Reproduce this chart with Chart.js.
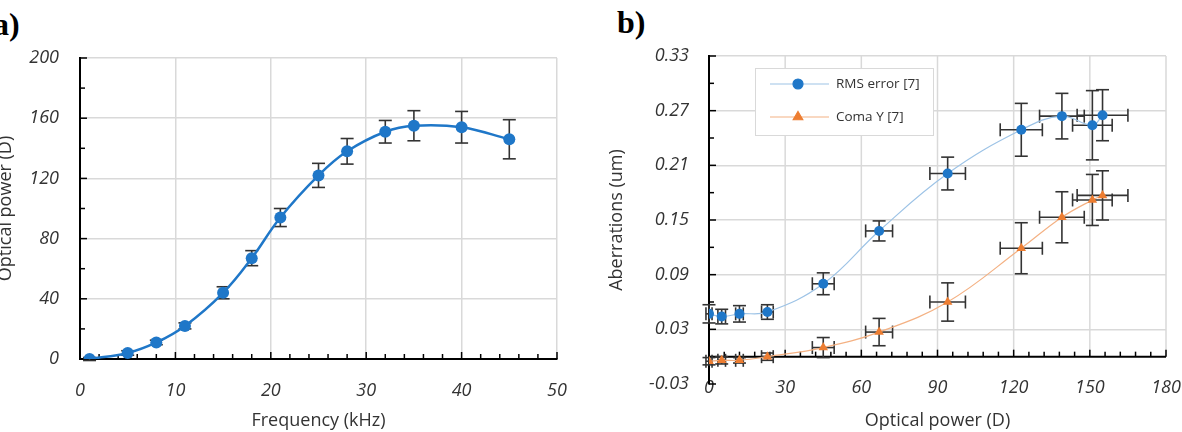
<!DOCTYPE html>
<html>
<head>
<meta charset="utf-8">
<script src="https://cdn.jsdelivr.net/npm/chart.js@4.4.0/dist/chart.umd.min.js"></script>
<style>
  body { margin: 0; background: #fff; width: 1182px; height: 432px; overflow: hidden; position: relative; }
  .panel { position: absolute; top: 0; height: 432px; }
  .tag { position: absolute; font-family: "Liberation Serif", "Times New Roman", serif; font-weight: bold; font-size: 32px; line-height: 32px; color: #000; }
</style>
</head>
<body>
<div class="tag" style="left:-7px; top:8px;">a)</div>
<div class="tag" style="left:617px; top:6px;">b)</div>
<div class="panel" style="left:0; width:590px;"><canvas id="chartA" width="590" height="432"></canvas></div>
<div class="panel" style="left:590px; width:592px;"><canvas id="chartB" width="592" height="432"></canvas></div>
<script>
// ---- panel a: optical power vs drive frequency
const freqKHz = [1, 5, 8, 11, 15, 18, 21, 25, 28, 32, 35, 40, 45];
const opticalPower = [0, 4, 11, 22, 44, 67, 94, 122, 138, 151, 155, 154, 146];
const opticalPowerErr = [1, 1.5, 1.5, 2, 4, 5, 6, 8, 8.5, 7.5, 10, 10.5, 13];
const freqTicks = [0, 10, 20, 30, 40, 50];
const powerTicks = [0, 40, 80, 120, 160, 200];

// ---- panel b: aberrations vs optical power
const lensPower = [0, 5, 12, 23, 45, 67, 94, 123, 139, 151, 155];
const lensPowerErr = [1.2, 1.5, 1.5, 2.3, 4.3, 5.3, 7, 8.3, 8.8, 7.8, 10];
const rmsError = [0.047, 0.044, 0.047, 0.049, 0.080, 0.138, 0.201, 0.249, 0.264, 0.254, 0.265];
const rmsErrorErr = [0.010, 0.008, 0.009, 0.008, 0.012, 0.011, 0.018, 0.029, 0.025, 0.038, 0.028];
const comaY = [-0.005, -0.004, -0.004, 0.000, 0.010, 0.027, 0.060, 0.119, 0.153, 0.172, 0.177];
const comaYErr = [0.004, 0.004, 0.003, 0.004, 0.011, 0.015, 0.021, 0.028, 0.028, 0.028, 0.027];
const lensPowerTicks = [0, 30, 60, 90, 120, 150, 180];
const aberrationTicks = [-0.03, 0.03, 0.09, 0.15, 0.21, 0.27, 0.33];

const BLUE = '#1f77c8';
const BLUE_LIGHT = '#9dc3e6';
const ORANGE = '#ed7d31';
const ORANGE_LIGHT = '#f4b183';
const GRID = '#d9d9d9';
const TEXT = '#333333';
const ERR = '#333333';

const tickFont = { family: '"Open Sans", sans-serif', size: 18, style: 'italic' };
const titleFont = { family: '"Open Sans", sans-serif', size: 18 };

function line(ctx, x1, y1, x2, y2) {
    ctx.beginPath();
    ctx.moveTo(x1, y1);
    ctx.lineTo(x2, y2);
    ctx.stroke();
}

// inner tick marks, axis at a value, shortened vertical grid, error bars
const decor = {
    id: 'decor',
    beforeDatasetsDraw(chart, args, opts) {
        const { ctx, chartArea: a, scales: { x, y } } = chart;
        ctx.save();
        const axisY = opts.xAxisAt !== undefined ? y.getPixelForValue(opts.xAxisAt) : a.bottom;

        if (opts.xAxisAt !== undefined) {
            ctx.strokeStyle = GRID;
            ctx.lineWidth = 1.5;
            x.ticks.forEach(t => {
                if (t.value === x.min) return;
                const px = x.getPixelForValue(t.value);
                line(ctx, px, a.top, px, axisY);
            });
            ctx.strokeStyle = '#000';
            ctx.lineWidth = 2;
            line(ctx, a.left, axisY, a.right, axisY);
        }

        // tick marks pointing into the plot
        ctx.strokeStyle = '#000';
        ctx.lineWidth = 1.5;
        for (let v = x.min; v <= x.max + 1e-9; v += opts.xMinor) {
            const px = x.getPixelForValue(v);
            const major = x.ticks.some(t => Math.abs(t.value - v) < 1e-6);
            line(ctx, px, axisY, px, axisY - (major ? 7 : 5));
        }
        for (let v = y.min; v <= y.max + 1e-9; v += opts.yMinor) {
            const py = y.getPixelForValue(v);
            const major = y.ticks.some(t => Math.abs(t.value - v) < 1e-6);
            line(ctx, a.left, py, a.left + (major ? 7 : 5), py);
        }

        // error bars
        ctx.strokeStyle = ERR;
        ctx.lineWidth = 1.6;
        const cap = 6.5;
        chart.data.datasets.forEach(ds => {
            ds.data.forEach((p, i) => {
                const px = x.getPixelForValue(p.x);
                const py = y.getPixelForValue(p.y);
                if (ds.errY) {
                    const t = y.getPixelForValue(p.y + ds.errY[i]);
                    const b = y.getPixelForValue(p.y - ds.errY[i]);
                    line(ctx, px, t, px, b);
                    line(ctx, px - cap, t, px + cap, t);
                    line(ctx, px - cap, b, px + cap, b);
                }
                if (ds.errX) {
                    const l = x.getPixelForValue(p.x - ds.errX[i]);
                    const r = x.getPixelForValue(p.x + ds.errX[i]);
                    line(ctx, l, py, r, py);
                    line(ctx, l, py - cap, l, py + cap);
                    line(ctx, r, py - cap, r, py + cap);
                }
            });
        });
        ctx.restore();
    },
    afterDraw(chart, args, opts) {
        if (!opts.legend) return;
        const { ctx } = chart;
        const L = opts.legend;
        ctx.save();
        ctx.fillStyle = '#fff';
        ctx.fillRect(L.x, L.y, L.w, L.h);
        ctx.strokeStyle = GRID;
        ctx.lineWidth = 1;
        ctx.strokeRect(L.x + 0.5, L.y + 0.5, L.w, L.h);
        ctx.font = '13.5px "Open Sans", sans-serif';
        ctx.textBaseline = 'middle';
        chart.data.datasets.forEach((ds, i) => {
            const ry = L.y + 16 + i * 33;
            ctx.strokeStyle = ds.borderColor;
            ctx.lineWidth = 1.2;
            line(ctx, L.x + 15, ry, L.x + 74, ry);
            ctx.fillStyle = ds.pointBackgroundColor;
            ctx.strokeStyle = ds.pointBackgroundColor;
            Chart.helpers.drawPoint(ctx, { pointStyle: ds.pointStyle, radius: ds.pointRadius, borderWidth: 1 }, L.x + 43, ry);
            ctx.fillStyle = TEXT;
            ctx.fillText(ds.label, L.x + 81, ry);
        });
        ctx.restore();
    }
};

function fixedTicks(values) {
    return scale => { scale.ticks = values.map(v => ({ value: v })); };
}

new Chart(document.getElementById('chartA'), {
    type: 'scatter',
    data: {
        datasets: [{
            label: 'Optical power',
            data: freqKHz.map((f, i) => ({ x: f, y: opticalPower[i] })),
            errY: opticalPowerErr,
            showLine: true,
            borderColor: BLUE,
            backgroundColor: BLUE,
            pointBackgroundColor: BLUE,
            borderWidth: 2.5,
            pointRadius: 6,
            pointBorderWidth: 0,
            tension: 0.4
        }]
    },
    options: {
        responsive: false,
        animation: false,
        layout: { padding: { left: 0, top: 58, right: 33, bottom: 0 } },
        plugins: {
            legend: { display: false },
            tooltip: { enabled: false },
            decor: { xMinor: 2, yMinor: 20 }
        },
        scales: {
            x: {
                type: 'linear', min: 0, max: 50,
                afterBuildTicks: fixedTicks(freqTicks),
                afterFit: s => { s.height = 73; },
                grid: { color: GRID, lineWidth: 1.5, drawTicks: false },
                border: { color: '#000', width: 2 },
                ticks: { padding: 21, font: tickFont, color: TEXT },
                title: { display: true, text: 'Frequency (kHz)', font: titleFont, color: TEXT, padding: { top: 0, bottom: 0 } }
            },
            y: {
                min: 0, max: 200,
                afterBuildTicks: fixedTicks(powerTicks),
                afterFit: s => { s.width = 80; },
                grid: { color: GRID, lineWidth: 1.5, drawTicks: false },
                border: { color: '#000', width: 2 },
                ticks: { padding: 21, font: tickFont, color: TEXT },
                title: { display: true, text: 'Optical power (D)', font: titleFont, color: TEXT, padding: { top: -5, bottom: 0 } }
            }
        }
    },
    plugins: [decor]
});

new Chart(document.getElementById('chartB'), {
    type: 'scatter',
    data: {
        datasets: [{
            label: 'RMS error [7]',
            data: lensPower.map((p, i) => ({ x: p, y: rmsError[i] })),
            errX: lensPowerErr,
            errY: rmsErrorErr,
            showLine: true,
            borderColor: BLUE_LIGHT,
            pointBackgroundColor: BLUE,
            pointBorderColor: BLUE,
            borderWidth: 1.2,
            pointRadius: 5,
            pointBorderWidth: 0,
            pointStyle: 'circle',
            tension: 0.4
        }, {
            label: 'Coma Y [7]',
            data: lensPower.map((p, i) => ({ x: p, y: comaY[i] })),
            errX: lensPowerErr,
            errY: comaYErr,
            showLine: true,
            borderColor: ORANGE_LIGHT,
            pointBackgroundColor: ORANGE,
            pointBorderColor: ORANGE,
            borderWidth: 1.2,
            pointRadius: 5.5,
            pointBorderWidth: 0,
            pointStyle: 'triangle',
            tension: 0.4
        }]
    },
    options: {
        responsive: false,
        animation: false,
        layout: { padding: { left: 0, top: 56, right: 16, bottom: 0 } },
        plugins: {
            legend: { display: false },
            tooltip: { enabled: false },
            decor: { xMinor: 6, yMinor: 0.03, xAxisAt: 0, legend: { x: 165, y: 68, w: 178, h: 67 } }
        },
        scales: {
            x: {
                type: 'linear', min: 0, max: 180,
                afterBuildTicks: fixedTicks(lensPowerTicks),
                afterFit: s => { s.height = 48; },
                grid: { display: false, drawTicks: false },
                border: { display: false },
                // mirrored so the labels may sit level with the -0.03 row, as in the original
                ticks: { mirror: true, padding: -15, font: tickFont, color: TEXT },
                title: { display: true, text: 'Optical power (D)', font: titleFont, color: TEXT, padding: { top: 0, bottom: 0 } }
            },
            y: {
                min: -0.03, max: 0.33,
                afterBuildTicks: fixedTicks(aberrationTicks),
                afterFit: s => { s.width = 119; },
                grid: {
                    color: ctx => (ctx.tick && ctx.tick.value < 0 ? 'rgba(0,0,0,0)' : GRID),
                    lineWidth: 1.5, drawTicks: false
                },
                border: { color: '#000', width: 2 },
                ticks: { padding: 20, font: tickFont, color: TEXT, callback: v => v.toFixed(2) },
                title: { display: true, text: 'Aberrations (um)', font: titleFont, color: TEXT, padding: { top: 16, bottom: 0 } }
            }
        }
    },
    plugins: [decor]
});
</script>
</body>
</html>
